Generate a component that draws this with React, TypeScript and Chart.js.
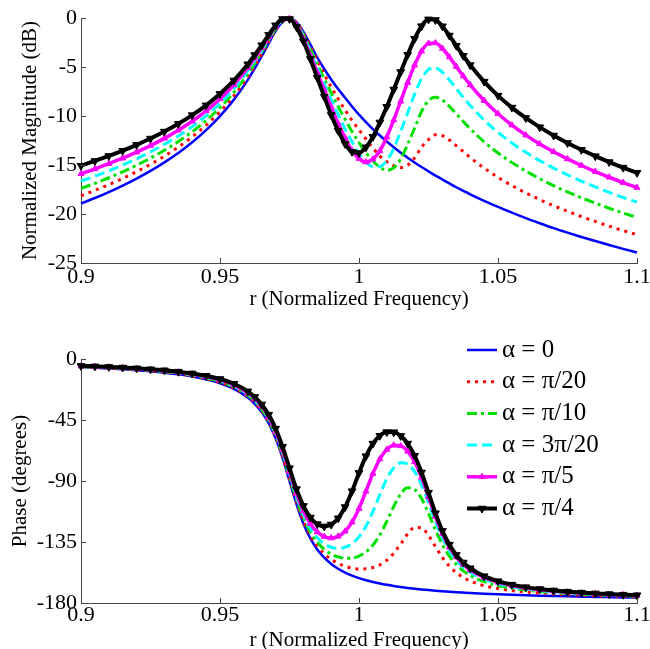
import React, { useEffect, useRef } from "react";
import { Chart, registerables } from "chart.js";

Chart.register(...registerables);

// ---------- data ----------
const freq = [
  0.9, 0.905, 0.91, 0.915, 0.92, 0.925, 0.93, 0.935, 0.94, 0.945, 0.95, 0.955,
  0.96, 0.9625, 0.965, 0.9675, 0.97, 0.9725, 0.975, 0.9775, 0.98, 0.9825, 0.985, 0.9875,
  0.99, 0.9925, 0.995, 0.9975, 1.0, 1.0025, 1.005, 1.0075, 1.01, 1.0125, 1.015, 1.0175,
  1.02, 1.0225, 1.025, 1.0275, 1.03, 1.0325, 1.035, 1.0375, 1.04,
  1.045, 1.05, 1.055, 1.06, 1.065, 1.07, 1.075, 1.08, 1.085, 1.09, 1.095, 1.1,
];

const seriesLabels = ["α = 0", "α = π/20", "α = π/10", "α = 3π/20", "α = π/5", "α = π/4"];

const magA0 = [
  -18.94, -18.37, -17.76, -17.1, -16.38, -15.6, -14.73, -13.77, -12.68, -11.44, -10.01, -8.33,
  -6.31, -5.15, -3.9, -2.59, -1.34, -0.37, 0, -0.41, -1.41, -2.7, -4.03, -5.2,
  -6.27, -7.25, -8.13, -9.03, -9.86, -10.62, -11.33, -11.99, -12.61, -13.19, -13.74, -14.25,
  -14.75, -15.21, -15.65, -16.08, -16.48, -16.88, -17.27, -17.63, -17.99,
  -18.66, -19.28, -19.86, -20.42, -20.94, -21.44, -21.9, -22.34, -22.76, -23.17, -23.56, -23.93,
];
const magA1 = [
  -18.14, -17.59, -17.0, -16.37, -15.68, -14.93, -14.1, -13.17, -12.13, -10.94, -9.57, -7.94,
  -6.0, -4.88, -3.68, -2.42, -1.22, -0.3, 0, -0.48, -1.56, -2.93, -4.36, -5.74,
  -7.04, -8.25, -9.39, -10.47, -11.41, -12.35, -13.27, -14.09, -14.67, -15.08, -15.26, -15.02,
  -14.27, -13.19, -12.4, -11.92, -12.01, -12.45, -13.03, -13.63, -14.23,
  -15.31, -16.26, -17.1, -17.85, -18.53, -19.15, -19.72, -20.26, -20.76, -21.24, -21.69, -22.11,
];
const magA2 = [
  -17.39, -16.87, -16.3, -15.69, -15.02, -14.3, -13.5, -12.61, -11.61, -10.46, -9.14, -7.58,
  -5.7, -4.63, -3.47, -2.26, -1.11, -0.25, -0.02, -0.57, -1.73, -3.19, -4.72, -6.22,
  -7.65, -9.02, -10.33, -11.6, -12.7, -13.74, -14.59, -15.22, -15.53, -15.29, -14.38, -12.88,
  -11.24, -9.54, -8.43, -8.09, -8.38, -9.02, -9.78, -10.56, -11.3,
  -12.63, -13.77, -14.75, -15.62, -16.4, -17.1, -17.75, -18.34, -18.89, -19.41, -19.9, -20.36,
];
const magA3 = [
  -16.65, -16.14, -15.6, -15.01, -14.37, -13.67, -12.9, -12.04, -11.08, -9.98, -8.71, -7.21,
  -5.4, -4.36, -3.25, -2.09, -0.99, -0.2, -0.03, -0.66, -1.91, -3.47, -5.11, -6.74,
  -8.32, -9.85, -11.34, -12.63, -13.85, -14.7, -15.17, -15.16, -14.55, -13.32, -11.56, -9.7,
  -7.77, -6.2, -5.26, -5.09, -5.54, -6.32, -7.2, -8.09, -8.92,
  -10.41, -11.67, -12.76, -13.71, -14.55, -15.32, -16.01, -16.65, -17.24, -17.79, -18.31, -18.79,
];
const magA4 = [
  -15.9, -15.4, -14.87, -14.31, -13.69, -13.02, -12.28, -11.45, -10.53, -9.47, -8.25, -6.81,
  -5.08, -4.09, -3.02, -1.91, -0.88, -0.15, -0.06, -0.77, -2.12, -3.8, -5.57, -7.34,
  -9.07, -10.77, -12.23, -13.54, -14.34, -14.7, -14.41, -13.56, -12.14, -10.4, -8.49, -6.58,
  -4.81, -3.39, -2.59, -2.55, -3.11, -3.98, -4.96, -5.92, -6.82,
  -8.42, -9.77, -10.93, -11.95, -12.85, -13.65, -14.38, -15.05, -15.67, -16.25, -16.79, -17.3,
];
const magA5 = [
  -15.07, -14.59, -14.08, -13.54, -12.94, -12.3, -11.59, -10.8, -9.91, -8.91, -7.74, -6.37,
  -4.72, -3.78, -2.77, -1.72, -0.75, -0.1, -0.1, -0.91, -2.38, -4.18, -6.1, -8.02,
  -9.89, -11.5, -12.84, -13.65, -13.77, -13.19, -12.13, -10.66, -9.06, -7.29, -5.51, -3.75,
  -2.12, -0.83, -0.14, -0.2, -0.84, -1.79, -2.83, -3.85, -4.8,
  -6.49, -7.92, -9.14, -10.2, -11.14, -11.99, -12.75, -13.45, -14.1, -14.7, -15.26, -15.79,
];

const phA0 = [
  -5.99, -6.43, -6.94, -7.53, -8.23, -9.06, -10.08, -11.33, -12.94, -15.04, -17.92, -22.06,
  -28.44, -33.06, -39.17, -47.41, -58.53, -73.0, -90.0, -106.96, -121.34, -132.37, -140.54, -146.6,
  -151.18, -154.72, -157.53, -159.79, -161.65, -163.2, -164.51, -165.64, -166.61, -167.46, -168.2, -168.87,
  -169.46, -169.99, -170.47, -170.91, -171.3, -171.67, -172.0, -172.3, -172.59,
  -173.1, -173.54, -173.92, -174.27, -174.57, -174.84, -175.1, -175.31, -175.52, -175.7, -175.87, -176.03,
];
const phA1 = [
  -5.77, -6.19, -6.68, -7.25, -7.91, -8.71, -9.69, -10.9, -12.44, -14.48, -17.27, -21.31,
  -27.57, -32.11, -38.13, -46.26, -57.27, -71.61, -88.45, -105.22, -119.39, -130.18, -138.04, -143.73,
  -147.85, -150.82, -152.9, -154.23, -154.86, -154.77, -153.84, -151.84, -148.43, -143.27, -136.39, -129.09,
  -124.25, -124.56, -130.1, -138.33, -146.36, -152.82, -157.62, -161.14, -163.74,
  -167.21, -169.37, -170.83, -171.88, -172.67, -173.3, -173.81, -174.23, -174.59, -174.9, -175.17, -175.41,
];
const phA2 = [
  -5.58, -5.99, -6.45, -7.0, -7.64, -8.4, -9.34, -10.5, -11.99, -13.96, -16.66, -20.59,
  -26.71, -31.17, -37.09, -45.11, -55.99, -70.18, -86.84, -103.39, -117.3, -127.76, -135.22, -140.41,
  -143.89, -146.02, -146.99, -146.81, -145.35, -142.33, -137.29, -129.74, -119.73, -108.67, -99.55, -95.0,
  -96.2, -102.99, -113.87, -126.04, -136.89, -145.37, -151.64, -156.25, -159.67,
  -164.28, -167.16, -169.11, -170.5, -171.54, -172.35, -173.01, -173.54, -173.99, -174.38, -174.71, -174.99,
];
const phA3 = [
  -5.41, -5.8, -6.25, -6.76, -7.38, -8.11, -9.0, -10.12, -11.55, -13.45, -16.06, -19.87,
  -25.84, -30.2, -36.02, -43.91, -54.63, -68.64, -85.07, -101.36, -114.92, -124.96, -131.87, -136.34,
  -138.87, -139.72, -138.9, -136.21, -131.22, -123.42, -112.65, -100.1, -88.44, -80.2, -76.49, -77.44,
  -83.03, -93.01, -106.17, -119.97, -132.01, -141.37, -148.31, -153.44, -157.27,
  -162.47, -165.75, -167.97, -169.57, -170.76, -171.69, -172.44, -173.05, -173.56, -174.0, -174.36, -174.69,
];
const phA4 = [
  -5.25, -5.62, -6.04, -6.54, -7.12, -7.82, -8.67, -9.74, -11.11, -12.92, -15.44, -19.12,
  -24.91, -29.16, -34.85, -42.58, -53.12, -66.89, -83.04, -98.96, -112.07, -121.5, -127.62, -131.03,
  -132.08, -130.85, -127.1, -120.36, -110.3, -97.59, -84.5, -73.79, -66.81, -63.66, -64.1, -68.1,
  -75.85, -87.38, -101.66, -116.29, -128.95, -138.8, -146.12, -151.54, -155.62,
  -161.18, -164.72, -167.13, -168.87, -170.17, -171.18, -172.0, -172.66, -173.22, -173.69, -174.09, -174.44,
];
const phA5 = [
  -5.08, -5.43, -5.83, -6.3, -6.85, -7.52, -8.32, -9.33, -10.63, -12.36, -14.76, -18.28,
  -23.86, -27.97, -33.49, -41.03, -51.31, -64.77, -80.53, -95.94, -108.38, -116.92, -121.81, -123.49,
  -122.11, -117.46, -109.2, -97.51, -84.06, -71.68, -62.39, -56.6, -53.92, -54.0, -56.74, -62.37,
  -71.29, -83.68, -98.61, -113.73, -126.78, -136.93, -144.5, -150.12, -154.36,
  -160.18, -163.9, -166.45, -168.29, -169.68, -170.76, -171.63, -172.33, -172.92, -173.43, -173.85, -174.23,
];

const freqTicks = [0.9, 0.95, 1, 1.05, 1.1];
const magTicks = [0, -5, -10, -15, -20, -25];
const phaseTicks = [0, -45, -90, -135, -180];

const magSeries = [magA0, magA1, magA2, magA3, magA4, magA5];
const phaseSeries = [phA0, phA1, phA2, phA3, phA4, phA5];

// ---------- styles ----------
const FONT = '"Liberation Serif", "Times New Roman", serif';
const styles = [
  { color: "#0000ff", dash: [] as number[], width: 2.5, marker: null as null | number, radius: 0 },
  { color: "#ff0000", dash: [3, 5], width: 3, marker: null, radius: 0 },
  { color: "#00e000", dash: [10, 4, 3, 4], width: 3, marker: null, radius: 0 },
  { color: "#00ffff", dash: [10, 5], width: 3, marker: null, radius: 0 },
  { color: "#ff00ff", dash: [], width: 3.5, marker: 0, radius: 3.5 },
  { color: "#000000", dash: [], width: 4, marker: 180, radius: 4.5 },
];

function makeDatasets(series: number[][]) {
  return series.map((vals, i) => {
    const s = styles[i];
    return {
      label: seriesLabels[i],
      data: freq.map((x, k) => ({ x, y: vals[k] })),
      borderColor: s.color,
      backgroundColor: s.color,
      borderWidth: s.width,
      borderDash: s.dash,
      borderCapStyle: "butt" as const,
      cubicInterpolationMode: "monotone" as const,
      pointRadius: s.radius,
      pointHoverRadius: 0,
      pointStyle: "triangle" as const,
      pointRotation: s.marker === null ? 0 : s.marker,
      pointBorderWidth: 1,
      pointBorderColor: s.color,
      pointBackgroundColor: s.color,
      order: 5 - i,
      clip: false as const,
    };
  });
}

const tickMarks = {
  id: "tickMarks",
  afterDraw(chart: any) {
    const { ctx, chartArea: a, scales } = chart;
    ctx.save();
    ctx.strokeStyle = "#444";
    ctx.lineWidth = 1;
    ctx.beginPath();
    scales.x.ticks.forEach((t: any) => {
      const px = Math.round(scales.x.getPixelForValue(t.value)) + 0.5;
      ctx.moveTo(px, a.bottom);
      ctx.lineTo(px, a.bottom - 5);
    });
    scales.y.ticks.forEach((t: any) => {
      const py = Math.round(scales.y.getPixelForValue(t.value)) + 0.5;
      ctx.moveTo(a.left, py);
      ctx.lineTo(a.left + 5, py);
    });
    ctx.stroke();
    ctx.restore();
  },
};

function drawTriangle(ctx: CanvasRenderingContext2D, x: number, y: number, r: number, rot: number) {
  ctx.save();
  ctx.translate(x, y);
  ctx.rotate((rot * Math.PI) / 180);
  ctx.beginPath();
  ctx.moveTo(0, -r);
  ctx.lineTo(r * 0.866, r * 0.5);
  ctx.lineTo(-r * 0.866, r * 0.5);
  ctx.closePath();
  ctx.fill();
  ctx.stroke();
  ctx.restore();
}

const matlabLegend = {
  id: "matlabLegend",
  afterDraw(chart: any) {
    const { ctx, chartArea: a } = chart;
    const x0 = a.right - 170;
    const x1 = x0 + 30;
    chart.data.datasets.forEach((ds: any, i: number) => {
      const yy = a.top - 9 + i * 31.7;
      ctx.save();
      ctx.strokeStyle = ds.borderColor;
      ctx.lineWidth = ds.borderWidth;
      ctx.setLineDash(ds.borderDash || []);
      ctx.beginPath();
      ctx.moveTo(x0, yy);
      ctx.lineTo(x1, yy);
      ctx.stroke();
      ctx.setLineDash([]);
      if (ds.pointRadius > 0) {
        ctx.fillStyle = ds.borderColor;
        ctx.lineWidth = 1;
        drawTriangle(ctx, (x0 + x1) / 2, yy, ds.pointRadius, ds.pointRotation);
      }
      ctx.fillStyle = "#000";
      ctx.font = `25px ${FONT}`;
      ctx.textBaseline = "middle";
      ctx.textAlign = "left";
      ctx.fillText(ds.label, x1 + 5, yy);
      ctx.restore();
    });
  },
};

function makeConfig(opts: {
  series: number[][];
  yTicks: number[];
  yMin: number;
  yMax: number;
  yTitle: string;
  yTitlePad: number;
  padTop: number;
  xHeight: number;
  xTickPad: number;
  xTitlePad: number;
  legend: boolean;
}): any {
  return {
    type: "line",
    data: { datasets: makeDatasets(opts.series) },
    options: {
      animation: false,
      responsive: false,
      events: [],
      layout: { padding: { left: 0, top: opts.padTop, right: 13, bottom: 0 } },
      plugins: { legend: { display: false }, tooltip: { enabled: false } },
      scales: {
        x: {
          type: "linear",
          min: 0.9,
          max: 1.1,
          afterBuildTicks: (s: any) => {
            s.ticks = freqTicks.map((v) => ({ value: v }));
          },
          ticks: {
            autoSkip: false,
            maxRotation: 0,
            padding: opts.xTickPad,
            color: "#000",
            font: { family: FONT, size: 22, lineHeight: 1 },
            callback: (v: number) => String(Number(v.toFixed(2))),
          },
          grid: { display: false, drawTicks: false },
          border: { display: true, color: "#444", width: 1 },
          title: {
            display: true,
            text: "r (Normalized Frequency)",
            color: "#000",
            font: { family: FONT, size: 21 },
            padding: { top: 0, bottom: opts.xTitlePad },
          },
          afterFit: (s: any) => {
            s.height = opts.xHeight;
            s.paddingLeft = 0;
            s.paddingRight = 0;
          },
        },
        y: {
          type: "linear",
          min: opts.yMin,
          max: opts.yMax,
          afterBuildTicks: (s: any) => {
            s.ticks = opts.yTicks.map((v) => ({ value: v }));
          },
          ticks: {
            autoSkip: false,
            padding: 4,
            color: "#000",
            font: { family: FONT, size: 22 },
            callback: (v: number) => String(v),
          },
          grid: { display: false, drawTicks: false },
          border: { display: true, color: "#444", width: 1 },
          title: {
            display: true,
            text: opts.yTitle,
            color: "#000",
            font: { family: FONT, size: 21 },
            padding: { top: opts.yTitlePad, bottom: 0 },
          },
          afterFit: (s: any) => {
            s.width = 81;
            s.paddingTop = 0;
            s.paddingBottom = 0;
          },
        },
      },
    },
    plugins: opts.legend ? [tickMarks, matlabLegend] : [tickMarks],
  };
}

export default function App() {
  const topRef = useRef<HTMLCanvasElement | null>(null);
  const botRef = useRef<HTMLCanvasElement | null>(null);

  useEffect(() => {
    const top = new Chart(
      topRef.current as HTMLCanvasElement,
      makeConfig({
        series: magSeries,
        yTicks: magTicks,
        yMin: -25,
        yMax: 0,
        yTitle: "Normalized Magnitude (dB)",
        yTitlePad: 18,
        padTop: 18,
        xHeight: 57,
        xTickPad: 3,
        xTitlePad: 8,
        legend: false,
      })
    );
    const bot = new Chart(
      botRef.current as HTMLCanvasElement,
      makeConfig({
        series: phaseSeries,
        yTicks: phaseTicks,
        yMin: -180,
        yMax: 0,
        yTitle: "Phase (degrees)",
        yTitlePad: 8,
        padTop: 39,
        xHeight: 46,
        xTickPad: 1,
        xTitlePad: -3.6,
        legend: true,
      })
    );
    return () => {
      top.destroy();
      bot.destroy();
    };
  }, []);

  return (
    <div style={{ position: "absolute", left: 0, top: 0, width: 650, height: 649, background: "#fff", overflow: "hidden" }}>
      <canvas ref={topRef} width={650} height={320} style={{ position: "absolute", left: 0, top: 0, width: 650, height: 320 }} />
      <canvas ref={botRef} width={650} height={329} style={{ position: "absolute", left: 0, top: 320, width: 650, height: 329 }} />
    </div>
  );
}
